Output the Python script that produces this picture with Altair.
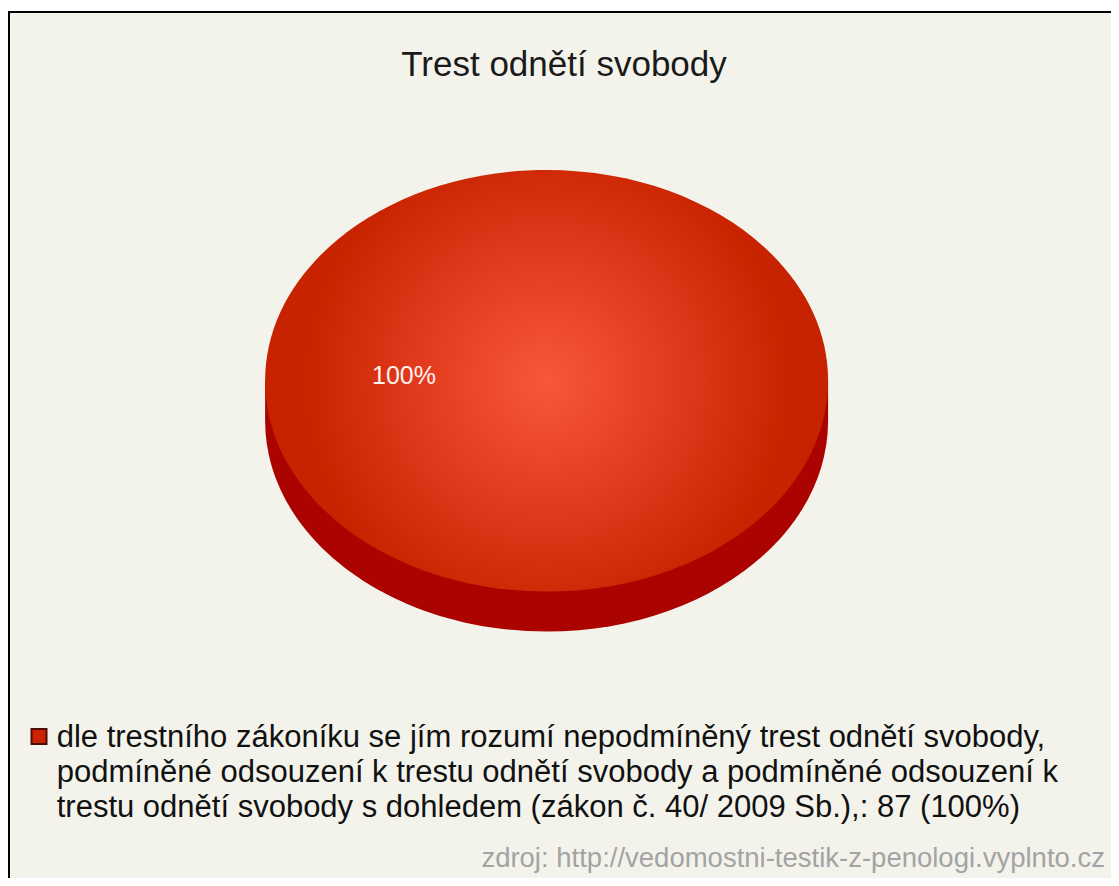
import altair as alt
import pandas as pd

# ---- data ----
categories = [
    "dle trestního zákoníku se jím rozumí nepodmíněný trest odnětí svobody,\n"
    "podmíněné odsouzení k trestu odnětí svobody a podmíněné odsouzení k\n"
    "trestu odnětí svobody s dohledem (zákon č. 40/ 2009 Sb.),"
]
counts = [87]
chart_title = "Trest odnětí svobody"
source_text = "zdroj: http://vedomostni-testik-z-penologi.vyplnto.cz"

total = sum(counts)
pcts = [round(c * 100 / total) for c in counts]
df = pd.DataFrame({
    "category": categories,
    "count": counts,
    "pct_label": [f"{p}%" for p in pcts],
    "legend_label": [f"{c}: {n} ({p}%)" for c, n, p in zip(categories, counts, pcts)],
})

# ---- layout ----
W, H = 1103, 870
BG = "#f4f3eb"
cx, cy = 538.6, 372.8      # pie centre (svg coords)
rx, ry, depth = 281.5, 210.8, 40.0

b = ry / rx
k = 0.5523
h = depth / rx
top_path = (
    f"M-1,0C-1,{-k*b:.4f} {-k:.4f},{-b:.4f} 0,{-b:.4f}"
    f"C{k:.4f},{-b:.4f} 1,{-k*b:.4f} 1,0"
    f"C1,{k*b:.4f} {k:.4f},{b:.4f} 0,{b:.4f}"
    f"C{-k:.4f},{b:.4f} -1,{k*b:.4f} -1,0Z"
)
side_path = (
    f"M-1,0L-1,{h:.4f}"
    f"C-1,{h+k*b:.4f} {-k:.4f},{h+b:.4f} 0,{h+b:.4f}"
    f"C{k:.4f},{h+b:.4f} 1,{h+k*b:.4f} 1,{h:.4f}"
    f"L1,0Z"
)
pie_size = (2 * rx) ** 2

base = alt.Chart(df)

panel = base.mark_rect(fill=BG, strokeWidth=0).encode(
    x=alt.value(2), y=alt.value(5), x2=alt.value(W), y2=alt.value(H)
)
border_top = base.mark_rule(color="#000000", strokeWidth=2).encode(
    x=alt.value(0), x2=alt.value(W), y=alt.value(4)
)
border_left = base.mark_rule(color="#000000", strokeWidth=2).encode(
    x=alt.value(1), y=alt.value(3), y2=alt.value(H)
)

side = base.mark_point(
    shape=side_path, filled=True, fill="#ab0400", strokeWidth=0, opacity=1
).encode(x=alt.value(cx), y=alt.value(cy), size=alt.value(pie_size))

top = base.mark_point(
    shape=top_path, filled=True, strokeWidth=0, opacity=1,
    fill=alt.RadialGradient(
        gradient="radial",
        x1=0.5, y1=0.5, r1=0, x2=0.5, y2=0.5, r2=0.5,
        stops=[
            alt.GradientStop(offset=0, color="#f75838"),
            alt.GradientStop(offset=0.45, color="#e23a1e"),
            alt.GradientStop(offset=0.85, color="#c92400"),
            alt.GradientStop(offset=1, color="#c62200"),
        ],
    ),
).encode(x=alt.value(cx), y=alt.value(cy), size=alt.value(pie_size))

pie_label = base.mark_text(
    font="Liberation Sans", fontSize=25, color="#fff3ee", align="center", baseline="middle"
).encode(x=alt.value(396), y=alt.value(368), text="pct_label:N")

title = base.mark_text(
    font="Liberation Sans", fontSize=35, color="#1a1a1a", align="center", baseline="alphabetic"
).encode(x=alt.value(556), y=alt.value(68), text=alt.value(chart_title))

legend_sym = base.mark_square(
    fill="#cc2200", stroke="#4a0c04", strokeWidth=2, opacity=1, size=225
).encode(x=alt.value(31), y=alt.value(728.5))

legend_text = base.mark_text(
    font="Liberation Sans", fontSize=31, color="#111111", align="left",
    baseline="alphabetic", lineBreak="\n", lineHeight=34.7
).encode(x=alt.value(48.7), y=alt.value(739.3), text="legend_label:N")

source = base.mark_text(
    font="Liberation Sans", fontSize=27.5, color="#a3a3a3", align="right", baseline="alphabetic"
).encode(x=alt.value(1097), y=alt.value(859), text=alt.value(source_text))

chart = alt.layer(
    panel, border_top, border_left, side, top, pie_label, title,
    legend_sym, legend_text, source
).properties(
    width=W, height=H, padding=0, autosize=alt.AutoSizeParams(type="none"),
    background="#ffffff",
).configure_view(stroke=None)

chart.save("out.html", embed_options={"renderer": "svg", "actions": False})
